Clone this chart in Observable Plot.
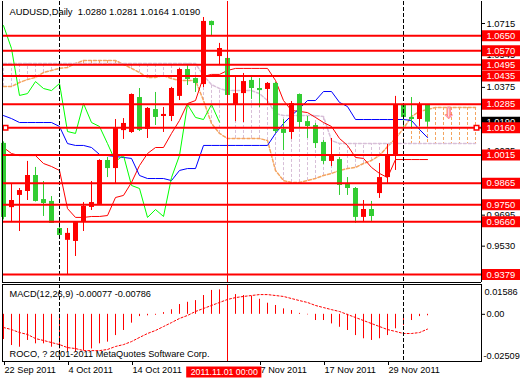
<!DOCTYPE html>
<html><head><meta charset="utf-8">
<script src="https://cdn.jsdelivr.net/npm/d3@7"></script>
<script src="https://cdn.jsdelivr.net/npm/@observablehq/plot@0.6"></script>
<style>
body{margin:0;background:#fff;}
#chart{width:520px;height:380px;overflow:hidden;background:#fff;}
#chart svg{display:block;overflow:visible;}
</style></head><body><div id="chart"></div>
<script>
// ---------- data ----------
const symbol = "AUDUSD", timeframe = "Daily";
const open  = [1.0077,0.9735,0.9800,0.9821,0.9906,0.9778,0.9768,0.9624,0.9561,0.9555,0.9656,0.9736,0.9752,0.9986,0.9943,1.0145,1.0135,1.0321,1.0151,1.0257,1.0220,1.0220,1.0327,1.0470,1.0422,1.0390,1.0726,1.0539,1.0529,1.0279,1.0342,1.0412,1.0369,1.0364,1.0396,1.0151,1.0135,1.0337,1.0193,1.0172,1.0082,0.9981,0.9991,0.9858,0.9837,0.9683,0.9725,0.9810,0.9895,1.0013,1.0279,1.0215,1.0204,1.0280];
const high  = [1.0085,0.9858,0.9837,0.9981,0.9949,0.9874,0.9794,0.9656,0.9624,0.9660,0.9762,0.9874,0.9990,1.0002,1.0204,1.0209,1.0340,1.0369,1.0268,1.0348,1.0268,1.0375,1.0475,1.0491,1.0425,1.0747,1.0728,1.0609,1.0555,1.0428,1.0449,1.0438,1.0422,1.0401,1.0401,1.0204,1.0300,1.0340,1.0220,1.0183,1.0092,1.0103,1.0002,0.9895,0.9842,0.9773,0.9768,0.9970,1.0071,1.0327,1.0289,1.0321,1.0295,1.0281];
const low   = [0.9670,0.9656,0.9608,0.9773,0.9765,0.9688,0.9651,0.9571,0.9379,0.9475,0.9608,0.9720,0.9750,0.9895,0.9863,1.0098,1.0130,1.0140,1.0103,1.0172,1.0135,1.0193,1.0305,1.0385,1.0348,1.0374,1.0651,1.0491,1.0268,1.0193,1.0188,1.0311,1.0268,1.0279,1.0130,1.0039,1.0098,1.0156,1.0103,1.0050,0.9965,0.9954,0.9800,0.9800,0.9651,0.9656,0.9656,0.9784,0.9863,0.9933,1.0146,1.0156,1.0167,1.0164];
const close = [0.9683,0.9773,0.9826,0.9906,0.9768,0.9757,0.9651,0.9587,0.9598,0.9656,0.9741,0.9762,0.9986,0.9943,1.0156,1.0183,1.0337,1.0146,1.0263,1.0215,1.0231,1.0369,1.0470,1.0417,1.0396,1.0726,1.0704,1.0582,1.0332,1.0342,1.0406,1.0369,1.0358,1.0396,1.0140,1.0130,1.0289,1.0188,1.0167,1.0076,0.9981,1.0013,0.9853,0.9837,0.9683,0.9725,0.9688,0.9895,1.0013,1.0284,1.0215,1.0204,1.0284,1.0190];
const tenkan = [1.0055,1.0023,1.0012,1.0012,1.0012,0.9970,0.9954,0.9933,0.9730,0.9683,0.9683,0.9688,0.9688,0.9693,0.9789,0.9800,0.9869,0.9959,1.0023,1.0055,1.0055,1.0130,1.0199,1.0289,1.0305,1.0433,1.0444,1.0444,1.0465,1.0476,1.0476,1.0476,1.0476,1.0476,1.0412,1.0305,1.0252,1.0247,1.0241,1.0215,1.0188,1.0167,1.0103,1.0066,1.0002,0.9997,0.9949,0.9917,0.9895,0.9991,0.9991,0.9991,0.9991,0.9991];
const kijun = [1.0225,1.0209,1.0188,1.0188,1.0188,1.0188,1.0188,1.0167,1.0076,1.0066,1.0066,1.0055,1.0018,1.0012,1.0007,1.0002,0.9997,0.9906,0.9890,0.9890,0.9890,0.9879,0.9933,0.9943,0.9943,1.0066,1.0066,1.0066,1.0066,1.0066,1.0066,1.0066,1.0066,1.0066,1.0130,1.0183,1.0225,1.0263,1.0305,1.0305,1.0353,1.0353,1.0295,1.0273,1.0204,1.0204,1.0204,1.0204,1.0204,1.0204,1.0204,1.0199,1.0151,1.0108];
const spanA = [1.0380,1.0380,1.0401,1.0417,1.0428,1.0454,1.0465,1.0476,1.0481,1.0502,1.0518,1.0518,1.0518,1.0518,1.0518,1.0497,1.0476,1.0454,1.0428,1.0428,1.0438,1.0422,1.0412,1.0412,1.0412,1.0305,1.0183,1.0130,1.0103,1.0103,1.0103,1.0103,1.0103,1.0092,0.9933,0.9879,0.9869,0.9869,0.9879,0.9890,0.9906,0.9917,0.9933,0.9943,0.9949,0.9970,0.9986,1.0013,1.0060,1.0103,1.0156,1.0220,1.0247,1.0257,1.0268,1.0268,1.0268,1.0268,1.0268,1.0268];
const spanB = [1.0502,1.0502,1.0502,1.0502,1.0502,1.0502,1.0502,1.0502,1.0502,1.0502,1.0502,1.0502,1.0502,1.0502,1.0502,1.0502,1.0502,1.0502,1.0502,1.0502,1.0502,1.0502,1.0502,1.0502,1.0502,1.0438,1.0390,1.0369,1.0358,1.0358,1.0358,1.0358,1.0342,1.0305,1.0236,1.0225,1.0225,1.0225,1.0225,1.0225,1.0220,1.0092,1.0076,1.0076,1.0076,1.0076,1.0076,1.0076,1.0076,1.0076,1.0076,1.0076,1.0076,1.0076,1.0076,1.0076,1.0076,1.0076,1.0076,1.0076];
const levels = [1.0650,1.0570,1.0495,1.0435,1.0285,1.0160,1.0015,0.9865,0.9750,0.9660,0.9379];
const levelMarker = 1.0160;
// price-scale ticks that remain (partly) visible beside the level labels
const priceTicks = [1.0715,1.0545,1.0375,1.0035,0.9695,0.9530];
const priceTickLabels = ["1.0715","1.0545","1.0375","1.0035","0.9695","0.9530"];
// date ticks (the one under the crosshair label is covered in the original)
const dateTickIdx = [0,8,16,32,40,48];
const dateTickLabels = ["22 Sep 2011","4 Oct 2011","14 Oct 2011","7 Nov 2011","17 Nov 2011","29 Nov 2011"];
const macd = [-0.0134,-0.0166,-0.0175,-0.0139,-0.0157,-0.0157,-0.0175,-0.0184,-0.0201,-0.0201,-0.0193,-0.0184,-0.0157,-0.0148,-0.0113,-0.0086,-0.0047,-0.0012,-0.0008,-0.0005,0.0009,0.0024,0.0052,0.0064,0.0073,0.0100,0.0127,0.0130,0.0115,0.0105,0.0100,0.0095,0.0080,0.0059,0.0047,0.0029,0.0020,0.0005,-0.0003,-0.0033,-0.0033,-0.0051,-0.0069,-0.0086,-0.0113,-0.0130,-0.0139,-0.0130,-0.0113,-0.0077,-0.0060,-0.0033,-0.0012,-0.00077];
const signal = [-0.0070,-0.0081,-0.0097,-0.0107,-0.0129,-0.0139,-0.0150,-0.0161,-0.0177,-0.0182,-0.0193,-0.0193,-0.0193,-0.0187,-0.0171,-0.0161,-0.0145,-0.0123,-0.0102,-0.0086,-0.0065,-0.0044,-0.0022,-0.0006,0.0015,0.0031,0.0047,0.0063,0.0079,0.0089,0.0095,0.0100,0.0105,0.0105,0.0100,0.0095,0.0084,0.0073,0.0063,0.0047,0.0036,0.0025,0.0015,-0.0001,-0.0017,-0.0033,-0.0049,-0.0065,-0.0081,-0.0091,-0.0102,-0.0102,-0.0097,-0.00786];
const macdMax = 0.01586, macdMin = -0.02509;
const dashedBars = [7, 50];
const crossBar = 28, crossLabel = "2011.11.01 00:00";
const arrowBar = 55.7, arrowPrice = 1.0238;
const copyright = "ROCO, ? 2001-2011 MetaQuotes Software Corp.";

// ---------- styling / layout ----------
const RED = "#ff0000", CGREEN = "#32cd32", LIME = "#00ff00", BLUE = "#0000ff", SANDY = "#f4a460", THISTLE = "#d8bfd8";
const FONT = "'Liberation Sans', Arial, sans-serif";
const xDomain = [-0.125, 59.75];           // bar index -> 8 px per bar
const pxToIdx = px => xDomain[0] + (px - 2) / 8;
const priceDomain = [1.0715 - 259/1879, 1.0715 + 22/1879];

const bars = close.map((c, i) => ({i, o: open[i], h: high[i], l: low[i], c, col: c >= open[i] ? RED : CGREEN}));
const cloud = spanA.map((a, i) => ({i, a, b: spanB[i], col: a > spanB[i] ? SANDY : THISTLE}));
const chikou = close.slice(26).map((v, k) => ({i: k, v}));
const tk = tenkan.map((v, i) => ({i, v}));
const kj = kijun.map((v, i) => ({i, v}));
const last = bars[bars.length - 1];
const title = `${symbol},${timeframe}\u00a0\u00a0${last.o.toFixed(4)} ${last.h.toFixed(4)} ${last.l.toFixed(4)} ${last.c.toFixed(4)}`;

const price = Plot.plot({
  width: 520, height: 283, marginLeft: 2, marginRight: 39, marginTop: 1, marginBottom: 1,
  x: {domain: xDomain, axis: null},
  y: {domain: priceDomain, axis: null},
  style: {fontFamily: FONT, fontSize: "9.4px", background: "white", overflow: "visible"},
  marks: [
    Plot.ruleX(cloud, {x: "i", y1: "a", y2: "b", stroke: "col", strokeDasharray: "3,2"}),
    Plot.line(cloud, {x: "i", y: "a", stroke: SANDY, strokeDasharray: "3,2"}),
    Plot.line(cloud, {x: "i", y: "b", stroke: THISTLE, strokeDasharray: "3,2"}),
    Plot.line(tk, {x: "i", y: "v", stroke: RED, strokeWidth: 1}),
    Plot.line(kj, {x: "i", y: "v", stroke: BLUE, strokeWidth: 1}),
    Plot.line(chikou, {x: "i", y: "v", stroke: LIME, strokeWidth: 1}),
    Plot.ruleX(bars, {x: "i", y1: "l", y2: "h", stroke: "col"}),
    Plot.ruleX(bars, {x: "i", y1: "o", y2: "c", stroke: "col", strokeWidth: 5}),
    Plot.ruleX(dashedBars, {stroke: "black", strokeDasharray: "4,2"}),
    Plot.ruleX([crossBar], {stroke: RED}),
    Plot.ruleY(levels, {stroke: RED, strokeWidth: 2}),
    Plot.dot([levelMarker, levelMarker], {x: [pxToIdx(5), pxToIdx(476)], y: d => d, symbol: "square", r: 2.6, stroke: RED, fill: "white", strokeWidth: 1.5}),
    Plot.text(["\u21e9"], {x: arrowBar, y: arrowPrice, fill: "#ffa0c0", stroke: "#ff5030", strokeWidth: 0.6, fontSize: 15, fontFamily: "DejaVu Sans"}),
    Plot.ruleX(xDomain, {stroke: "black"}),
    Plot.ruleY([priceDomain[0]], {stroke: "black"}),
    Plot.axisY({anchor: "right", ticks: priceTicks, tickFormat: d => priceTickLabels[priceTicks.indexOf(d)], tickSize: 3, tickPadding: 2, textAnchor: "start", label: null, fill: "black"}),
    Plot.ruleY([last.c], {x1: pxToIdx(482), x2: pxToIdx(521), stroke: "black", strokeWidth: 11}),
    Plot.text([last.c], {y: d => d, x: pxToIdx(486), text: d => d.toFixed(4), fill: "white", textAnchor: "start"}),
    Plot.ruleY(levels, {x1: pxToIdx(482), x2: pxToIdx(521), stroke: RED, strokeWidth: 11}),
    Plot.text(levels, {y: d => d, x: pxToIdx(486), text: d => d.toFixed(4), fill: "white", textAnchor: "start"}),
    Plot.text([title], {frameAnchor: "top-left", dx: 7, dy: 10.5, lineAnchor: "middle", textAnchor: "start", fill: "black"})
  ]
});

const macdData = macd.map((v, i) => ({i, v}));
const sigData = signal.map((v, i) => ({i, v}));
const pxToMacd = py => macdMax - (py - 1) * (macdMax - macdMin) / 77;  // svg-local px
const macdTitle = `MACD(12,26,9) ${macd[macd.length-1].toFixed(5)} ${signal[signal.length-1].toFixed(5)}`;

const macdPlot = Plot.plot({
  width: 520, height: 97, marginLeft: 2, marginRight: 39, marginTop: 1, marginBottom: 19,
  x: {domain: xDomain, axis: null},
  y: {domain: [macdMin, macdMax], axis: null},
  style: {fontFamily: FONT, fontSize: "9.2px", background: "white", overflow: "visible"},
  marks: [
    Plot.ruleX(macdData, {x: "i", y1: 0, y2: "v", stroke: RED}),
    Plot.line(sigData, {x: "i", y: "v", stroke: RED, strokeDasharray: "2,2", strokeWidth: 1}),
    Plot.ruleX(dashedBars, {stroke: "black", strokeDasharray: "4,2"}),
    Plot.ruleX([crossBar], {stroke: RED}),
    Plot.frame({stroke: "black"}),
    Plot.axisX({ticks: dateTickIdx, tickFormat: d => dateTickLabels[dateTickIdx.indexOf(d)], tickSize: 4, tickPadding: 1, textAnchor: "start", dx: 1, label: null, fill: "black"}),
    Plot.axisY({anchor: "right", ticks: [0], tickFormat: () => "0.00", tickSize: 3, tickPadding: 2, textAnchor: "start", label: null, fill: "black"}),
    Plot.text([macdMax.toFixed(5)], {frameAnchor: "top-right", dx: 3, dy: 8, textAnchor: "start", lineAnchor: "middle", fill: "black"}),
    Plot.text([macdMin.toFixed(5)], {frameAnchor: "bottom-right", dx: 2, dy: -5, textAnchor: "start", lineAnchor: "middle", fill: "black"}),
    Plot.text([macdTitle], {frameAnchor: "top-left", dx: 7, dy: 9.5, lineAnchor: "middle", textAnchor: "start", fill: "black"}),
    Plot.text([copyright], {frameAnchor: "bottom-left", dx: 7, dy: -7, lineAnchor: "middle", textAnchor: "start", fill: "black"}),
    Plot.ruleY([pxToMacd(88.5)], {x1: crossBar - 5.1, x2: crossBar + 4.3, stroke: RED, strokeWidth: 11}),
    Plot.text([crossLabel], {x: crossBar - 0.4, y: pxToMacd(88.5), fill: "white", textAnchor: "middle", fontSize: 8.8})
  ]
});

const root = document.getElementById("chart");
root.appendChild(price);
root.appendChild(macdPlot);
</script>
</body></html>
